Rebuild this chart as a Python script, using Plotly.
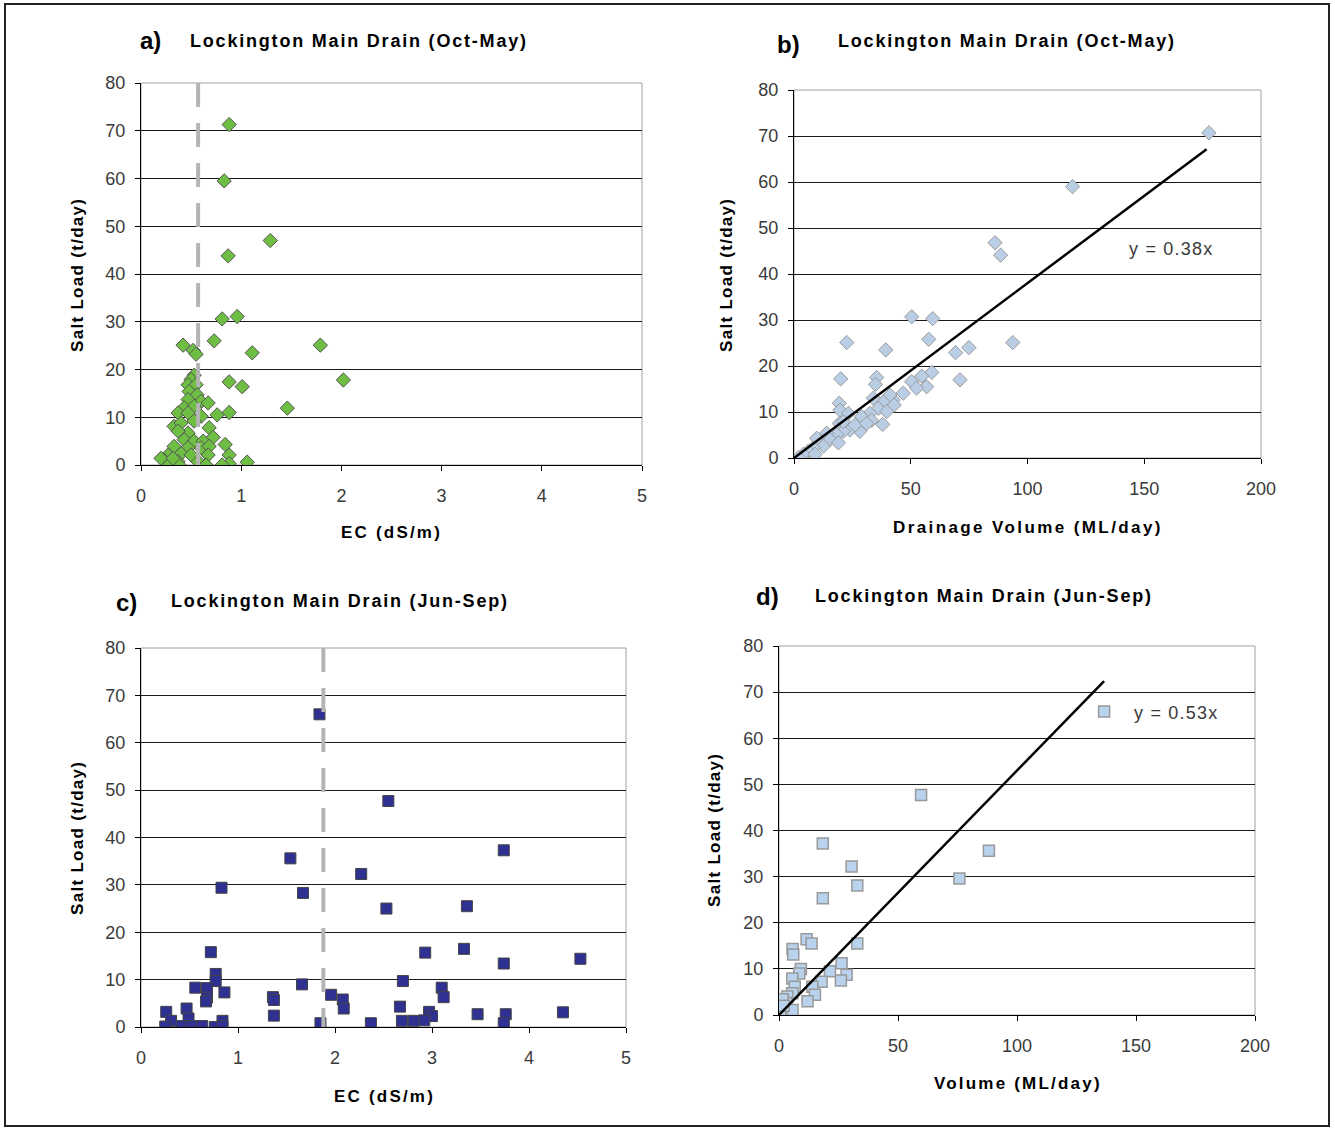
import plotly.graph_objects as go

W, H = 1335, 1128

# ---------------- Data ----------------
# a) Oct-May: EC (dS/m) vs Salt Load (t/day)
ec_a = [0.88, 0.83, 1.29, 0.87, 0.81, 0.96, 0.42, 0.73, 0.52, 0.55, 1.11, 1.79, 2.02,
        0.88, 1.01, 1.46, 0.88, 0.76, 0.84, 0.88, 0.88, 0.81, 1.06,
        0.53, 0.50, 0.47, 0.55, 0.48, 0.56, 0.47, 0.60, 0.67, 0.43, 0.53, 0.37, 0.47,
        0.60, 0.53, 0.33, 0.40, 0.68, 0.47, 0.37, 0.72, 0.43, 0.53, 0.62, 0.33, 0.47,
        0.60, 0.68, 0.27, 0.40, 0.50, 0.67, 0.23, 0.37, 0.57, 0.28, 0.38, 0.65, 0.20, 0.32]
load_a = [71.3, 59.5, 47.0, 43.8, 30.6, 31.1, 25.1, 26.0, 24.0, 23.2, 23.5, 25.1, 17.8,
          17.4, 16.4, 11.9, 11.0, 10.5, 4.3, 2.1, 0.3, 0.0, 0.6,
          18.8, 17.9, 16.8, 16.8, 15.4, 14.7, 13.7, 13.3, 13.0, 12.0, 12.3, 10.9, 10.9,
          10.2, 9.2, 8.1, 8.8, 7.8, 6.7, 7.1, 5.8, 5.3, 5.0, 5.0, 3.9, 3.6,
          3.6, 3.9, 2.1, 2.4, 2.1, 2.1, 1.0, 0.7, 0.7, 0.1, 0.0, 0.0, 1.4, 1.4]
ec_line_a = 0.57

# b) Oct-May: Drainage Volume (ML/day) vs Salt Load (t/day)
vol_b = [177.7, 119.3, 86.1, 88.5, 50.4, 59.4, 22.6, 57.7, 39.3, 93.7, 74.9, 69.2, 71.1,
         20.0, 35.4, 34.9, 59.0, 54.7, 50.4, 56.8, 52.5, 46.8, 42.5, 41.1, 38.2, 42.9,
         34.0, 19.4, 19.7, 23.3, 36.1, 39.7, 32.5, 28.9, 33.2, 38.0, 28.2, 23.9, 19.4,
         21.1, 18.3, 14.0, 9.7, 15.4, 19.0, 12.6, 8.3, 6.1, 4.0, 1.9, 9.0, 21.1, 26.1, 31.1]
load_b = [70.7, 59.0, 46.8, 44.1, 30.7, 30.3, 25.1, 25.8, 23.5, 25.1, 24.0, 22.9, 17.0,
          17.2, 17.5, 16.0, 18.6, 17.8, 16.6, 15.5, 15.2, 14.1, 12.6, 13.7, 12.2, 11.5,
          13.0, 11.9, 10.4, 9.7, 10.8, 10.1, 9.7, 9.0, 8.2, 7.3, 5.8, 6.1, 7.5,
          5.8, 5.1, 5.4, 4.3, 4.0, 3.3, 2.6, 2.2, 1.5, 0.8, 0.1, 0.8, 7.9, 7.2, 7.5]
slope_b = 0.38

# c) Jun-Sep: EC (dS/m) vs Salt Load (t/day)
ec_c = [1.84, 2.55, 1.54, 2.27, 0.83, 1.67, 2.53, 0.72, 0.77, 0.77, 1.66, 0.56, 0.68,
        0.86, 0.68, 0.67, 1.36, 1.37, 1.96, 2.08, 2.09, 0.26, 0.47, 0.49, 0.31, 1.37,
        0.84, 0.25, 0.42, 0.52, 0.63, 0.76, 0.84, 1.85, 2.37,
        3.74, 3.36, 2.93, 3.33, 3.74, 4.53, 2.70, 3.10, 3.12, 2.67, 2.97, 3.00, 2.92,
        2.69, 2.81, 3.47, 3.76, 3.74, 4.35]
load_c = [66.0, 47.7, 35.6, 32.3, 29.4, 28.3, 25.0, 15.8, 11.2, 9.7, 9.0, 8.3, 8.2,
          7.3, 6.2, 5.4, 6.3, 5.7, 6.8, 5.8, 3.9, 3.2, 3.9, 1.8, 1.3, 2.4,
          1.3, 0.1, 0.2, 0.2, 0.2, 0.0, 0.2, 0.8, 0.8,
          37.3, 25.5, 15.7, 16.5, 13.4, 14.4, 9.7, 8.3, 6.3, 4.3, 3.2, 2.3, 1.4,
          1.3, 1.3, 2.7, 2.7, 0.8, 3.1]
ec_line_c = 1.88

# d) Jun-Sep: Volume (ML/day) vs Salt Load (t/day)
vol_d = [136.6, 59.7, 18.4, 30.5, 32.9, 75.8, 88.2, 18.4, 32.9, 11.6, 13.7, 5.7, 6.0,
         9.2, 8.5, 26.3, 28.4, 26.0, 21.4, 17.9, 5.6, 6.6, 14.0, 15.1, 5.6, 12.0, 3.5,
         3.1, 1.5, 5.7, 0.0, 1.0, 0.5, 2.0]
load_d = [65.8, 47.7, 37.2, 32.2, 28.1, 29.6, 35.6, 25.3, 15.5, 16.4, 15.5, 14.3, 13.1,
          10.0, 9.0, 11.2, 8.7, 7.5, 9.5, 7.2, 7.9, 6.1, 6.1, 4.4, 4.7, 3.0, 4.0,
          2.6, 3.4, 1.1, 1.1, 0.3, 0.0, 2.0]
slope_d = 0.53

y_ticks = [0, 10, 20, 30, 40, 50, 60, 70, 80]
ec_ticks = [0, 1, 2, 3, 4, 5]
vol_ticks = [0, 50, 100, 150, 200]

# ---------------- Layout helpers ----------------
def px_dom_x(a, b):
    return [a / W, b / W]

def px_dom_y(top, bottom):
    return [1 - bottom / H, 1 - top / H]

panels = {
    "a": dict(x=(141, 642), y=(83, 465)),
    "b": dict(x=(794, 1261), y=(90, 458)),
    "c": dict(x=(141, 626), y=(648, 1027)),
    "d": dict(x=(779, 1255), y=(646, 1015)),
}

FONT = "Liberation Sans, Arial, sans-serif"
TICKFONT = dict(family=FONT, size=18, color="#3a3a3a")

fig = go.Figure()

# a
fig.add_trace(go.Scatter(x=ec_a, y=load_a, mode="markers", xaxis="x", yaxis="y",
                         marker=dict(symbol="diamond", size=11, color="#6FBE44",
                                     line=dict(color="#555555", width=1)),
                         showlegend=False))
# b
fig.add_trace(go.Scatter(x=vol_b, y=load_b, mode="markers", xaxis="x2", yaxis="y2",
                         marker=dict(symbol="diamond", size=11, color="#B9CDE5",
                                     line=dict(color="#9A9A9A", width=1)),
                         showlegend=False))
xmax_b = max(vol_b) - 1
fig.add_trace(go.Scatter(x=[0, xmax_b], y=[0, slope_b * xmax_b], mode="lines",
                         xaxis="x2", yaxis="y2", line=dict(color="black", width=2.5),
                         showlegend=False))
# c
fig.add_trace(go.Scatter(x=ec_c, y=load_c, mode="markers", xaxis="x3", yaxis="y3",
                         marker=dict(symbol="square", size=11, color="#2E3192",
                                     line=dict(color="#444444", width=1)),
                         showlegend=False))
# d
fig.add_trace(go.Scatter(x=vol_d, y=load_d, mode="markers", xaxis="x4", yaxis="y4",
                         marker=dict(symbol="square", size=11, color="#B9D3EE",
                                     line=dict(color="#999999", width=1.5)),
                         showlegend=False))
xmax_d = max(vol_d)
fig.add_trace(go.Scatter(x=[0, xmax_d], y=[0, slope_d * xmax_d], mode="lines",
                         xaxis="x4", yaxis="y4", line=dict(color="black", width=2.5),
                         showlegend=False))

def xaxis_cfg(p, rng, ticks, anchor):
    return dict(domain=px_dom_x(*panels[p]["x"]), range=rng, tickvals=ticks,
                showgrid=False, zeroline=False, showline=True, linecolor="black",
                linewidth=1, ticks="outside", ticklen=5, tickcolor="black",
                tickfont=TICKFONT, anchor=anchor, fixedrange=True,
                ticklabelstandoff=9, automargin=False)

def yaxis_cfg(p, anchor):
    return dict(domain=px_dom_y(*panels[p]["y"]), range=[0, 80], tickvals=y_ticks,
                showgrid=True, gridcolor="#1a1a1a", gridwidth=1, zeroline=False,
                showline=True, linecolor="black", linewidth=1, ticks="outside",
                ticklen=5, tickcolor="black", tickfont=TICKFONT, anchor=anchor,
                fixedrange=True, ticklabelstandoff=6, automargin=False)

layout = dict(
    template="none",
    width=W, height=H, margin=dict(l=0, r=0, t=0, b=0, pad=0, autoexpand=False),
    paper_bgcolor="white", plot_bgcolor="white",
    xaxis=xaxis_cfg("a", [0, 5], ec_ticks, "y"),
    yaxis=yaxis_cfg("a", "x"),
    xaxis2=xaxis_cfg("b", [0, 200], vol_ticks, "y2"),
    yaxis2=yaxis_cfg("b", "x2"),
    xaxis3=xaxis_cfg("c", [0, 5], ec_ticks, "y3"),
    yaxis3=yaxis_cfg("c", "x3"),
    xaxis4=xaxis_cfg("d", [0, 200], vol_ticks, "y4"),
    yaxis4=yaxis_cfg("d", "x4"),
)
fig.update_layout(**layout)

shapes = []
# outer border
shapes.append(dict(type="rect", xref="paper", yref="paper",
                   x0=5 / W, x1=1329 / W, y0=1 - 1126 / H, y1=1 - 4 / H,
                   line=dict(color="#222222", width=2), fillcolor="rgba(0,0,0,0)"))
# plot-area frames (gray top/right)
for i, p in enumerate(["a", "b", "c", "d"]):
    sfx = "" if i == 0 else str(i + 1)
    shapes.append(dict(type="rect", xref=f"x{sfx} domain", yref=f"y{sfx} domain",
                       x0=0, x1=1, y0=0, y1=1, line=dict(color="#A0A0A0", width=1),
                       layer="below"))
# dashed EC lines
shapes.append(dict(type="line", xref="x", yref="y", x0=ec_line_a, x1=ec_line_a, y0=80, y1=0,
                   line=dict(color="#B4B4B4", width=4, dash="24px,16px")))
shapes.append(dict(type="line", xref="x3", yref="y3", x0=ec_line_c, x1=ec_line_c, y0=80, y1=0,
                   line=dict(color="#B4B4B4", width=4, dash="24px,16px")))
fig.update_layout(shapes=shapes)

ann = []
def txt(x, y, s, size=17, bold=True, angle=0, spacing=0.0, color="black"):
    t = f"<b>{s}</b>" if bold else s
    if spacing:
        t = f'<span style="letter-spacing:{spacing}px">{t}</span>'
    ann.append(dict(xref="paper", yref="paper", x=x / W, y=1 - y / H, text=t,
                    showarrow=False, textangle=angle, xanchor="center", yanchor="middle",
                    font=dict(family=FONT, size=size, color=color)))

# panel letters and titles
txt(150, 40, "a)", size=24)
txt(359, 41, "Lockington Main Drain (Oct-May)", size=18, spacing=1.8)
txt(788, 44, "b)", size=24)
txt(1007, 41, "Lockington Main Drain (Oct-May)", size=18, spacing=1.8)
txt(126, 602, "c)", size=24)
txt(340, 601, "Lockington Main Drain (Jun-Sep)", size=18, spacing=1.8)
txt(767, 596, "d)", size=24)
txt(984, 596, "Lockington Main Drain (Jun-Sep)", size=18, spacing=1.8)

# axis titles
txt(391, 533, "EC (dS/m)", size=17, spacing=2.2)
txt(1028, 527, "Drainage Volume (ML/day)", size=17, spacing=2.4)
txt(384, 1096, "EC (dS/m)", size=17, spacing=2.2)
txt(1018, 1083, "Volume (ML/day)", size=17, spacing=2.2)
txt(77, 275, "Salt Load (t/day)", size=17, angle=-90, spacing=1.3)
txt(726, 275, "Salt Load (t/day)", size=17, angle=-90, spacing=1.3)
txt(77, 838, "Salt Load (t/day)", size=17, angle=-90, spacing=1.3)
txt(714, 830, "Salt Load (t/day)", size=17, angle=-90, spacing=1.3)

fig.update_layout(annotations=ann)

# trend equation labels (data coordinates)
fig.add_annotation(xref="x2", yref="y2", x=161.5, y=45.4,
                   text=f'<span style="letter-spacing:1.2px">y = {slope_b}x</span>',
                   showarrow=False, font=dict(family=FONT, size=18, color="#3a3a3a"))
fig.add_annotation(xref="x4", yref="y4", x=167, y=65.5,
                   text=f'<span style="letter-spacing:1.2px">y = {slope_d}x</span>',
                   showarrow=False, font=dict(family=FONT, size=18, color="#3a3a3a"))

fig.write_html(
    "out.html",
    config={"displayModeBar": False},
    post_script="document.body.style.margin='0';document.body.style.padding='0';"
                "document.documentElement.style.overflow='hidden';",
)
